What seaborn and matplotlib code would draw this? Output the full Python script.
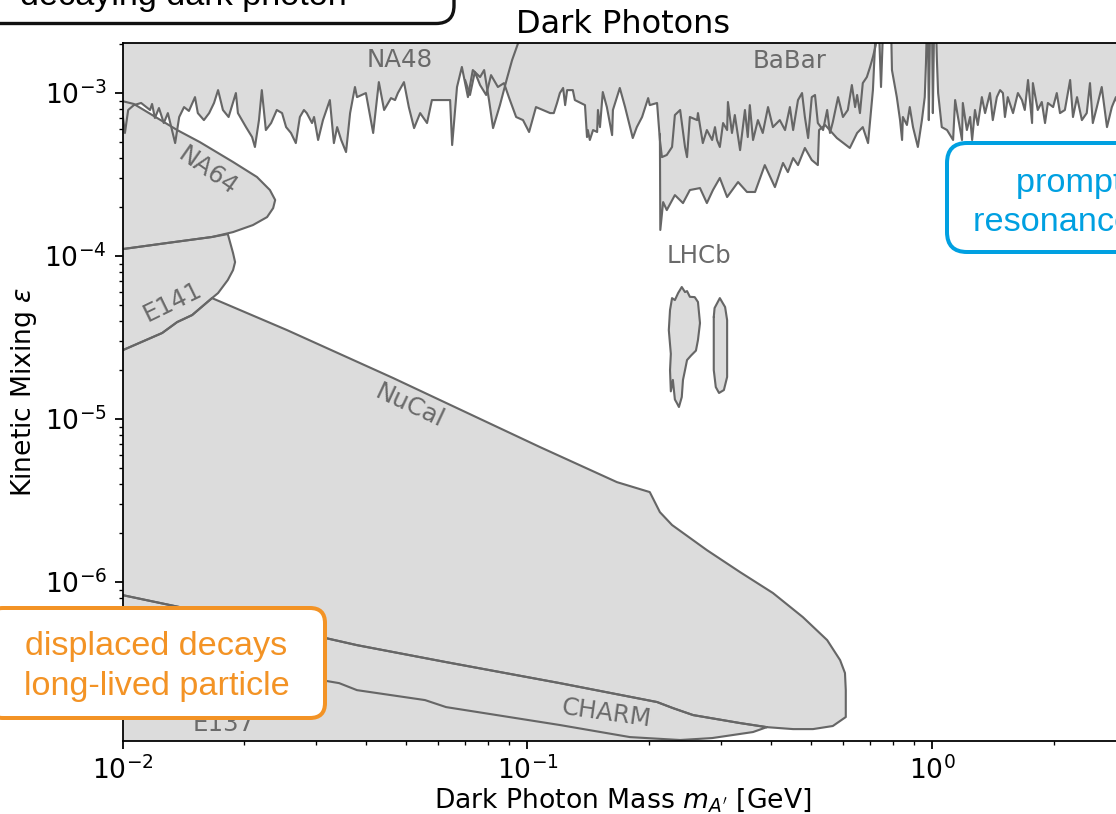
import numpy as np
import matplotlib
matplotlib.use("Agg")
import matplotlib.pyplot as plt
from matplotlib.patches import FancyBboxPatch
from matplotlib.transforms import IdentityTransform
import seaborn as sns

# ---------------- data (log10 mass [GeV], log10 epsilon) ----------------
na48_boundary = [(-2.030,-3.147),(-1.999,-3.147),(-1.994,-3.245),(-1.986,-3.104),(-1.972,-3.074),(-1.954,-3.061),
    (-1.932,-3.104),(-1.927,-3.067),(-1.920,-3.153),(-1.910,-3.092),(-1.898,-3.184),(-1.888,-3.123),(-1.870,-3.307),
    (-1.860,-3.147),(-1.848,-3.086),(-1.836,-3.110),(-1.821,-3.025),(-1.814,-3.123),(-1.799,-3.166),(-1.786,-3.123),
    (-1.774,-3.061),(-1.764,-2.982),(-1.752,-3.104),(-1.738,-3.147),(-1.720,-3.000),(-1.715,-3.123),(-1.695,-3.209),
    (-1.680,-3.270),(-1.673,-3.331),(-1.663,-3.166),(-1.656,-2.982),(-1.646,-3.227),(-1.633,-3.184),(-1.619,-3.104),
    (-1.606,-3.123),(-1.596,-3.209),(-1.584,-3.245),(-1.572,-3.307),(-1.562,-3.147),(-1.552,-3.104),(-1.545,-3.123),
    (-1.532,-3.184),(-1.527,-3.147),(-1.517,-3.288),(-1.505,-3.166),(-1.488,-3.043),(-1.478,-3.307),(-1.470,-3.209),
    (-1.460,-3.288),(-1.448,-3.362),(-1.438,-3.123),(-1.426,-2.963),(-1.421,-3.025),(-1.399,-3.000),(-1.381,-3.245),
    (-1.367,-2.933),(-1.354,-3.104),(-1.337,-3.031),(-1.327,-3.043),(-1.320,-3.000),(-1.305,-2.933),(-1.293,-3.086),
    (-1.280,-3.215),(-1.265,-3.123),(-1.248,-3.184),(-1.236,-3.043),(-1.219,-3.043),(-1.191,-3.043),(-1.186,-3.319),
    (-1.174,-2.963),(-1.162,-2.840),(-1.147,-3.025),(-1.135,-2.859),(-1.117,-2.902),(-1.107,-2.859),(-1.095,-3.043),
    (-1.085,-3.215),(-1.068,-3.074),(-1.051,-2.914),(-1.038,-2.798),(-1.023,-2.693),(-1.019,-2.613)]

babar_boundary = [(-1.154,-2.920),(-1.142,-3.012),(-1.130,-2.871),(-1.117,-2.951),(-1.102,-3.012),(-1.090,-2.890),
    (-1.073,-2.963),(-1.058,-2.939),(-1.046,-3.025),(-1.028,-3.147),(-1.011,-3.166),(-0.996,-3.239),(-0.979,-3.086),
    (-0.962,-3.104),(-0.944,-3.123),(-0.935,-3.123),(-0.927,-3.061),(-0.920,-3.000),(-0.912,-2.969),(-0.907,-3.074),
    (-0.902,-2.982),(-0.888,-2.982),(-0.883,-3.043),(-0.858,-3.074),(-0.853,-3.270),(-0.851,-3.227),(-0.846,-3.288),
    (-0.838,-3.227),(-0.828,-3.239),(-0.826,-3.104),(-0.821,-3.209),(-0.814,-2.994),(-0.804,-3.086),(-0.791,-3.258),
    (-0.789,-3.104),(-0.772,-2.969),(-0.759,-3.086),(-0.740,-3.276),(-0.730,-3.209),(-0.717,-3.147),(-0.702,-3.031),
    (-0.698,-3.074),(-0.680,-3.061),(-0.673,-3.288),(-0.668,-3.393),(-0.656,-3.380),(-0.643,-3.331),(-0.636,-3.135),
    (-0.623,-3.104),(-0.611,-3.331),(-0.606,-3.393),(-0.599,-3.147),(-0.581,-3.166),(-0.579,-3.123),(-0.567,-3.307),
    (-0.557,-3.227),(-0.544,-3.288),(-0.537,-3.209),(-0.532,-3.288),(-0.525,-3.331),(-0.517,-3.184),(-0.507,-3.227),
    (-0.505,-3.055),(-0.495,-3.245),(-0.488,-3.135),(-0.475,-3.350),(-0.463,-3.104),(-0.456,-3.270),(-0.451,-3.074),
    (-0.443,-3.288),(-0.431,-3.166),(-0.419,-3.245),(-0.406,-3.086),(-0.394,-3.209),(-0.377,-3.166),(-0.364,-3.227),
    (-0.352,-3.086),(-0.344,-3.227),(-0.332,-3.043),(-0.322,-3.000),(-0.315,-3.147),(-0.307,-3.276),(-0.298,-3.025),
    (-0.290,-3.012),(-0.283,-3.184),(-0.270,-3.227),(-0.260,-3.104),(-0.253,-3.245),(-0.246,-3.178),(-0.233,-3.025),
    (-0.221,-3.147),(-0.209,-3.104),(-0.199,-2.951),(-0.191,-3.086),(-0.186,-3.012),(-0.179,-3.123),(-0.172,-2.939),
    (-0.162,-2.902),(-0.154,-2.840),(-0.147,-2.779),(-0.140,-2.706),(-0.137,-2.613),(-0.132,-2.613),(-0.127,-2.963),
    (-0.122,-2.613),(-0.102,-2.613),(-0.100,-2.859),(-0.088,-3.025),(-0.080,-3.166),(-0.075,-3.288),(-0.073,-3.147),
    (-0.063,-3.196),(-0.056,-3.086),(-0.048,-3.209),(-0.036,-3.331),(-0.026,-3.166),(-0.019,-3.025),(-0.016,-2.816),
    (-0.014,-2.613),(-0.011,-2.613),(-0.009,-3.166),(-0.006,-2.613),(-0.001,-2.613),(0.001,-3.123),(0.004,-2.613),
    (0.009,-2.613),(0.011,-2.798),(0.014,-3.000),(0.023,-3.209),(0.036,-3.227),(0.051,-3.288),(0.056,-3.043),
    (0.063,-3.147),(0.073,-3.288),(0.075,-3.061),(0.085,-3.227),(0.093,-3.147),(0.098,-3.288),(0.105,-3.104),
    (0.112,-3.196),(0.122,-3.025),(0.130,-3.123),(0.142,-3.000),(0.149,-3.166),(0.159,-3.025),(0.167,-2.982),
    (0.174,-3.000),(0.179,-3.147),(0.186,-3.025),(0.199,-3.123),(0.211,-3.000),(0.221,-3.043),(0.228,-3.104),
    (0.236,-2.920),(0.246,-3.184),(0.248,-2.939),(0.260,-3.104),(0.270,-3.055),(0.278,-3.184),(0.285,-3.061),
    (0.298,-3.086),(0.307,-3.000),(0.315,-3.123),(0.327,-3.104),(0.340,-2.920),(0.347,-3.147),(0.357,-3.025),
    (0.369,-3.166),(0.381,-3.123),(0.389,-2.939),(0.396,-3.184),(0.406,-3.086),(0.418,-2.963),(0.431,-3.209),
    (0.443,-3.086),(0.453,-3.025),(0.463,-3.135),(0.478,-3.043),(0.500,-3.104)]

lhcb_prompt_lower = [(-0.673,-3.250),(-0.672,-3.840),(-0.665,-3.669),(-0.656,-3.718),(-0.636,-3.626),(-0.616,-3.675),
    (-0.599,-3.595),(-0.574,-3.583),(-0.557,-3.675),(-0.542,-3.595),(-0.525,-3.521),(-0.507,-3.638),(-0.480,-3.546),
    (-0.458,-3.607),(-0.438,-3.607),(-0.414,-3.442),(-0.389,-3.577),(-0.369,-3.429),(-0.357,-3.485),(-0.344,-3.399),
    (-0.332,-3.442),(-0.315,-3.337),(-0.298,-3.411),(-0.283,-3.442),(-0.280,-3.227),(-0.265,-3.196),(-0.236,-3.276),
    (-0.204,-3.337),(-0.186,-3.245),(-0.172,-3.209),(-0.159,-3.307),(-0.147,-2.982),(-0.140,-2.613)]

lhcb_island_a = [(-0.574,-4.411),(-0.579,-4.515),(-0.584,-4.580),(-0.596,-4.610),(-0.606,-4.638),(-0.611,-4.700),
    (-0.616,-4.760),(-0.619,-4.865),(-0.626,-4.926),(-0.631,-4.902),(-0.636,-4.880),(-0.641,-4.760),(-0.646,-4.830),
    (-0.648,-4.700),(-0.646,-4.600),(-0.651,-4.454),(-0.648,-4.331),(-0.643,-4.258),(-0.636,-4.270),(-0.628,-4.227),
    (-0.619,-4.190),(-0.611,-4.221),(-0.606,-4.215),(-0.599,-4.250),(-0.587,-4.252),(-0.579,-4.282),(-0.574,-4.411)]

lhcb_island_b = [(-0.540,-4.374),(-0.538,-4.319),(-0.525,-4.258),(-0.512,-4.313),(-0.507,-4.393),(-0.507,-4.742),
    (-0.515,-4.822),(-0.527,-4.840),(-0.535,-4.804),(-0.540,-4.699),(-0.540,-4.374)]

na64_region = [(-2.011,-3.043),(-1.972,-3.067),(-1.865,-3.227),(-1.809,-3.301),(-1.727,-3.423),(-1.668,-3.515),
    (-1.636,-3.595),(-1.623,-3.656),(-1.628,-3.706),(-1.643,-3.761),(-1.678,-3.810),(-1.727,-3.853),(-1.779,-3.883),
    (-1.890,-3.920),(-1.999,-3.957),(-2.031,-3.963)]

e141_region = [(-2.031,-3.963),(-1.999,-3.957),(-1.890,-3.920),(-1.779,-3.883),(-1.740,-3.865),(-1.727,-3.982),
    (-1.722,-4.037),(-1.727,-4.086),(-1.740,-4.147),(-1.764,-4.227),(-1.779,-4.258),(-1.828,-4.362),(-1.865,-4.405),
    (-1.902,-4.472),(-1.999,-4.577),(-2.031,-4.589)]

nucal_region = [(-2.031,-4.589),(-1.999,-4.577),(-1.902,-4.472),(-1.865,-4.405),(-1.828,-4.362),(-1.779,-4.258),
    (-1.594,-4.454),(-1.332,-4.748),(-0.969,-5.172),(-0.779,-5.387),(-0.698,-5.448),(-0.673,-5.571),(-0.643,-5.650),
    (-0.557,-5.804),(-0.475,-5.939),(-0.394,-6.067),(-0.320,-6.215),(-0.260,-6.356),(-0.228,-6.479),(-0.216,-6.558),
    (-0.214,-6.663),(-0.214,-6.828),(-0.246,-6.883),(-0.295,-6.902),(-0.344,-6.902),(-0.409,-6.890),(-0.475,-6.865),
    (-0.591,-6.816),(-0.641,-6.773),(-0.680,-6.736),(-0.920,-6.620),(-1.201,-6.491),(-1.421,-6.387),(-1.510,-6.337),
    (-1.860,-6.153),(-2.000,-6.080),(-2.031,-6.067)]

charm_region = [(-0.409,-6.890),(-0.475,-6.865),(-0.591,-6.816),(-0.641,-6.773),(-0.680,-6.736),(-0.920,-6.620),
    (-1.201,-6.491),(-1.421,-6.387),(-1.510,-6.337),(-1.860,-6.153),(-2.000,-6.080),(-2.031,-6.067),(-2.031,-6.350),
    (-1.858,-6.429),(-1.685,-6.509),(-1.510,-6.601),(-1.465,-6.620),(-1.421,-6.663),(-1.253,-6.724),(-1.201,-6.767),
    (-0.920,-6.877),(-0.747,-6.951),(-0.623,-6.969),(-0.544,-6.957),(-0.443,-6.920),(-0.409,-6.890)]

e137_upper = [(-2.031,-6.350),(-1.858,-6.429),(-1.685,-6.509),(-1.510,-6.601),(-1.465,-6.620),(-1.421,-6.663),
    (-1.253,-6.724),(-1.201,-6.767),(-0.920,-6.877),(-0.747,-6.951),(-0.623,-6.969),(-0.590,-7.050)]

# region labels: text, mass [GeV], epsilon, rotation
region_labels = [("NA48", 0.0484, 1.59e-3, 0), ("BaBar", 0.445, 1.57e-3, 0), ("LHCb", 0.265, 1.0e-4, 0),
                 ("NA64", 0.0162, 3.32e-4, -35), ("E141", 0.01327, 5.22e-5, 26), ("NuCal", 0.0513, 1.20e-5, -25),
                 ("CHARM", 0.157, 1.57e-7, -8), ("E137", 0.01782, 1.35e-7, 0)]

# ---------------- style ----------------
FILL = "#dcdcdc"
EDGE = "#666666"
LABEL = "#6a6a6a"
ORANGE = "#F39325"
BLUE = "#00A0E1"

sns.set_theme(style="ticks", rc={
    "axes.edgecolor": "black", "axes.linewidth": 0.8, "xtick.color": "black", "ytick.color": "black",
    "text.color": "black", "axes.labelcolor": "black", "xtick.labelsize": 12, "ytick.labelsize": 12,
    "axes.labelsize": 12, "axes.titlesize": 14.4, "xtick.major.size": 3.5, "ytick.major.size": 3.5,
    "xtick.minor.size": 2, "ytick.minor.size": 2, "xtick.major.width": 0.8, "ytick.major.width": 0.8,
    "xtick.minor.width": 0.6, "ytick.minor.width": 0.6})
plt.rcParams["font.family"] = ["DejaVu Sans"]

W, H, DPI = 1116, 814, 160
fig = plt.figure(figsize=(W / DPI, H / DPI), dpi=DPI)
ax = fig.add_axes([122.5 / W, (H - 741) / H, (1124 - 122.5) / W, (741 - 43) / H])
ax.set_xscale("log")
ax.set_yscale("log")

CEIL = -2.0   # log10 eps above the plot for closing top regions
FLOOR = -7.5  # log10 eps below the plot for closing bottom regions


def arr(pairs):
    a = np.array(pairs, dtype=float)
    return 10.0 ** a[:, 0], 10.0 ** a[:, 1]


def fill_top(pairs):
    m, e = arr(pairs)
    m = np.concatenate([m, [m[-1], m[0]]])
    e = np.concatenate([e, [10 ** CEIL, 10 ** CEIL]])
    ax.fill(m, e, color=FILL, lw=0, zorder=1)


def fill_closed(pairs):
    m, e = arr(pairs)
    ax.fill(m, e, color=FILL, lw=0, zorder=1)


def outline(pairs):
    m, e = arr(pairs)
    sns.lineplot(x=m, y=e, sort=False, estimator=None, color=EDGE, linewidth=0.95, ax=ax, zorder=2)


fill_top(na48_boundary)
fill_top(babar_boundary)
fill_top(lhcb_prompt_lower)
fill_closed(na64_region)
fill_closed(e141_region)
fill_closed(nucal_region)
fill_closed(charm_region)
m137, e137 = arr(e137_upper)
ax.fill(np.concatenate([m137, [m137[-1], m137[0]]]), np.concatenate([e137, [10 ** FLOOR, 10 ** FLOOR]]),
        color=FILL, lw=0, zorder=1)
fill_closed(lhcb_island_a)
fill_closed(lhcb_island_b)

for p in [na48_boundary, babar_boundary, lhcb_prompt_lower, na64_region, e141_region, nucal_region,
          charm_region, lhcb_island_a, lhcb_island_b]:
    outline(p)

for txt, mx, ey, rot in region_labels:
    ax.text(mx, ey, txt, ha="center", va="center", rotation=rot, rotation_mode="anchor",
            color=LABEL, fontsize=11, zorder=3)

ax.set_xlim(0.01, 10 ** 0.473)
ax.set_ylim(10 ** -6.975, 10 ** -2.693)
ax.set_xlabel(r"Dark Photon Mass $m_{A'}$ [GeV]", labelpad=0.5)
ax.set_ylabel(r"Kinetic Mixing $\epsilon$", labelpad=2.5)
ax.set_title("Dark Photons", pad=4.5)

# ---------------- slide annotation boxes (display pixel coords) ----------------
def box(x0, top, x1, bottom, color, lw, r):
    p = FancyBboxPatch((x0, H - bottom), x1 - x0, bottom - top,
                       boxstyle=f"round,pad=0,rounding_size={r}", transform=IdentityTransform(),
                       fc="white", ec=color, lw=lw, zorder=10, clip_on=False)
    fig.add_artist(p)


def ftext(x, y, s, color, ha="left"):
    fig.text(x / W, 1 - y / H, s, ha=ha, va="baseline", color=color, fontsize=15.4,
             family=["Liberation Sans", "DejaVu Sans"], zorder=11)


box(-90, -100, 454, 23.5, "#111111", 1.5, 18)
ftext(20, 5, "decaying dark photon", "black")

box(-12, 608, 325, 718, ORANGE, 1.8, 15)
ftext(156.6, 655, "displaced decays", ORANGE, ha="center")
ftext(156.6, 695, "long-lived particle", ORANGE, ha="center")

box(947, 143, 1320, 252, BLUE, 1.8, 20)
ftext(1016, 192, "prompt decays", BLUE)
ftext(973, 231, "resonance searches", BLUE)

fig.savefig("out.png", dpi=DPI)
